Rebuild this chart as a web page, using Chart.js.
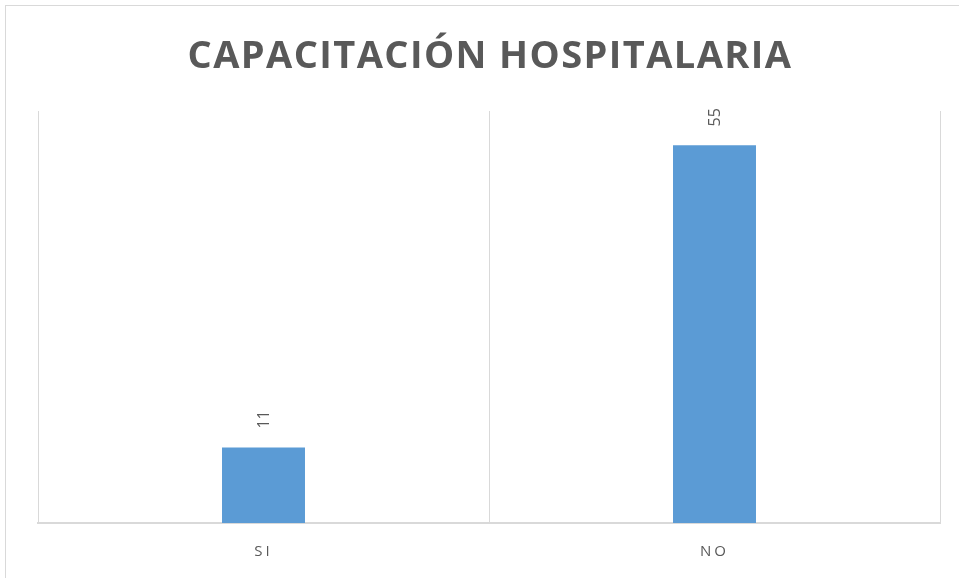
<!DOCTYPE html>
<html>
<head>
<meta charset="utf-8">
<script src="https://cdn.jsdelivr.net/npm/chart.js@4"></script>
<style>
  html, body { margin: 0; padding: 0; background: #ffffff; overflow: hidden; }
  #frame { position: absolute; left: 5px; top: 5px; width: 1100px; height: 700px; border: 1px solid #d9d9d9; box-sizing: border-box; }
  #wrap { position: absolute; left: 0; top: 0; width: 959px; height: 578px; }
</style>
</head>
<body>
<div id="frame"></div>
<div id="wrap"><canvas id="c" width="959" height="578"></canvas></div>
<script>
const titleText = 'CAPACITACIÓN HOSPITALARIA';
const categories = ['SI', 'NO'];
const values = [11, 55];
const yMax = 60;

const gray = '#595959';

const titlePlugin = {
  id: 'customTitle',
  beforeDraw(chart) {
    const ctx = chart.ctx;
    ctx.save();
    ctx.font = 'bold 38px "Open Sans"';
    ctx.fillStyle = gray;
    ctx.letterSpacing = '1.4px';
    ctx.textAlign = 'center';
    ctx.textBaseline = 'middle';
    const cx = (chart.chartArea.left + chart.chartArea.right) / 2;
    ctx.fillText(titleText, cx + 1, 57);
    ctx.restore();
    ctx.letterSpacing = '3px';
  }
};

const labelPlugin = {
  id: 'barLabels',
  afterDatasetsDraw(chart) {
    const ctx = chart.ctx;
    const meta = chart.getDatasetMeta(0);
    ctx.save();
    ctx.letterSpacing = '0px';
    ctx.font = '16px "Open Sans"';
    ctx.fillStyle = gray;
    ctx.textAlign = 'center';
    ctx.textBaseline = 'middle';
    meta.data.forEach((bar, i) => {
      ctx.save();
      ctx.translate(bar.x + 1, bar.y - 28);
      ctx.rotate(-Math.PI / 2);
      ctx.fillText(String(values[i]), 0, 0);
      ctx.restore();
    });
    ctx.restore();
  }
};

new Chart(document.getElementById('c'), {
  type: 'bar',
  data: {
    labels: categories,
    datasets: [{
      data: values,
      backgroundColor: '#5b9bd5',
      borderWidth: 0,
      barPercentage: 0.92,
      categoryPercentage: 0.2
    }]
  },
  options: {
    responsive: false,
    animation: false,
    devicePixelRatio: 1,
    layout: { padding: { left: 38, right: 19, top: 111, bottom: 4 } },
    plugins: { legend: { display: false }, tooltip: { enabled: false }, title: { display: false } },
    scales: {
      x: {
        afterFit(scale) { scale.height = 51; },
        grid: { display: true, color: '#d9d9d9', lineWidth: 1, drawTicks: false, offset: true },
        border: { display: true, color: '#d9d9d9', width: 2 },
        ticks: { color: gray, font: { family: '"Open Sans"', size: 15 }, padding: 20 }
      },
      y: {
        display: false,
        min: 0,
        max: yMax
      }
    }
  },
  plugins: [titlePlugin, labelPlugin]
});
</script>
</body>
</html>
